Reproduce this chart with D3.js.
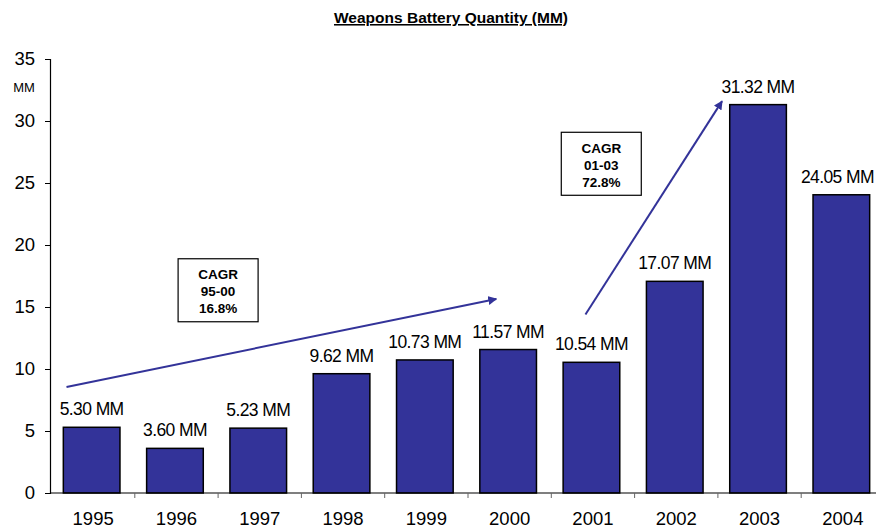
<!DOCTYPE html>
<html>
<head>
<meta charset="utf-8">
<script src="https://cdn.jsdelivr.net/npm/d3@7"></script>
<style>
  body { margin: 0; background: #fff; }
  svg { display: block; font-family: "Liberation Sans", Arial, sans-serif; }
</style>
</head>
<body>
<div id="chart"></div>
<script>
// Weapons battery quantity by year (millions)
const years = ['1995', '1996', '1997', '1998', '1999', '2000', '2001', '2002', '2003', '2004'];
const quantities = [5.30, 3.60, 5.23, 9.62, 10.73, 11.57, 10.54, 17.07, 31.32, 24.05];
const yTicks = [0, 5, 10, 15, 20, 25, 30, 35];

// CAGR call-outs: arrow from/to (year, offset within band, value) and the box text
const cagrLabels = [['CAGR', '95-00', '16.8%'], ['CAGR', '01-03', '72.8%']];
const arrowFrom = [['1995', 0.18, 8.55], ['2001', 0.41, 14.4]];
const arrowTo = [['2000', 0.34, 15.65], ['2003', 0.05, 31.6]];
const boxCenter = [['1997', 0.0, 16.35], ['2001', 0.60, 26.55]];

const W = 876, H = 529;
const margin = { top: 59, left: 50, bottom: 36 };
const xStart = 51.5, xEnd = 884.5;   // plot runs past the right edge of the page

const svg = d3.select('#chart').append('svg')
    .attr('width', W)
    .attr('height', H);

const x = d3.scaleBand()
    .domain(years)
    .range([xStart - 1.5, xEnd - 1.5])
    .paddingInner(0.32)
    .paddingOuter(0.16);

const xb = d3.scaleBand()
    .domain(years)
    .range([xStart, xEnd]);

const y = d3.scaleLinear()
    .domain([0, 35])
    .range([H - margin.bottom, margin.top]);

const xAt = (yr, off) => xb(yr) + off * xb.bandwidth();

svg.append('defs').append('marker')
    .attr('id', 'arrow')
    .attr('viewBox', '0 0 10 10')
    .attr('refX', 9)
    .attr('refY', 5)
    .attr('markerWidth', 4.5)
    .attr('markerHeight', 4.5)
    .attr('orient', 'auto')
    .append('path')
    .attr('d', 'M0,0 L10,5 L0,10 Z')
    .attr('fill', '#333399');

// Title
svg.append('text')
    .attr('x', 451)
    .attr('y', 23)
    .attr('text-anchor', 'middle')
    .attr('font-size', 15.5)
    .attr('font-weight', 'bold')
    .attr('text-decoration', 'underline')
    .text('Weapons Battery Quantity (MM)');

// Bars
svg.selectAll('.bar')
    .data(years)
    .enter()
    .append('rect')
    .attr('class', 'bar')
    .attr('x', d => x(d))
    .attr('y', (d, i) => y(quantities[i]))
    .attr('width', x.bandwidth())
    .attr('height', (d, i) => y(0) - y(quantities[i]))
    .attr('fill', '#333399')
    .attr('stroke', '#000')
    .attr('stroke-width', 1.5);

// Value labels
svg.selectAll('.val')
    .data(years)
    .enter()
    .append('text')
    .attr('class', 'val')
    .attr('x', d => x(d) + x.bandwidth() / 2)
    .attr('y', (d, i) => y(quantities[i]) - 12)
    .attr('text-anchor', 'middle')
    .attr('font-size', 17.5)
    .attr('letter-spacing', -0.6)
    .text((d, i) => quantities[i].toFixed(2) + ' MM')
    .each(function() {
        // keep the last label inside the page
        const b = this.getBBox();
        const over = b.x + b.width - (W - 2);
        if (over > 0) d3.select(this).attr('x', +d3.select(this).attr('x') - over);
    });

// Y axis
const yAxis = svg.append('g')
    .attr('transform', `translate(${margin.left},0)`)
    .call(d3.axisLeft(y).tickValues(yTicks).tickSize(5).tickPadding(10));
yAxis.select('.domain').attr('stroke', '#000').attr('stroke-width', 1.2);
yAxis.selectAll('.tick line').attr('stroke', '#000');
yAxis.selectAll('.tick text')
    .attr('font-size', 18.5)
    .attr('font-family', '"Liberation Sans", Arial, sans-serif')
    .attr('fill', '#000');

svg.append('text')
    .attr('x', 24)
    .attr('y', 92)
    .attr('text-anchor', 'middle')
    .attr('font-size', 13)
    .text('MM');

// X axis
const xAxis = svg.append('g')
    .attr('transform', `translate(0,${y(0)})`);
xAxis.append('line')
    .attr('x1', margin.left)
    .attr('x2', W)
    .attr('stroke', '#000')
    .attr('stroke-width', 1.2);
xAxis.selectAll('.xtick')
    .data(years.slice(1))
    .enter()
    .append('line')
    .attr('x1', d => xb(d))
    .attr('x2', d => xb(d))
    .attr('y1', 0)
    .attr('y2', 5)
    .attr('stroke', '#666');
xAxis.selectAll('.xlab')
    .data(years)
    .enter()
    .append('text')
    .attr('x', d => xb(d) + xb.bandwidth() / 2)
    .attr('y', 32)
    .attr('text-anchor', 'middle')
    .attr('font-size', 18.5)
    .text(d => d);

// CAGR arrows
svg.selectAll('.arrow')
    .data(arrowFrom)
    .enter()
    .append('line')
    .attr('class', 'arrow')
    .attr('x1', d => xAt(d[0], d[1]))
    .attr('y1', d => y(d[2]))
    .attr('x2', (d, i) => xAt(arrowTo[i][0], arrowTo[i][1]))
    .attr('y2', (d, i) => y(arrowTo[i][2]))
    .attr('stroke', '#333399')
    .attr('stroke-width', 2)
    .attr('marker-end', 'url(#arrow)');

// CAGR boxes
const boxW = 80, boxH = 63;
const boxes = svg.selectAll('.cagr')
    .data(boxCenter)
    .enter()
    .append('g')
    .attr('class', 'cagr')
    .attr('transform', d => `translate(${xAt(d[0], d[1])},${y(d[2])})`);
boxes.append('rect')
    .attr('x', -boxW / 2)
    .attr('y', -boxH / 2)
    .attr('width', boxW)
    .attr('height', boxH)
    .attr('fill', '#fff')
    .attr('stroke', '#000')
    .attr('stroke-width', 1.2);
boxes.each(function(d, i) {
    d3.select(this).selectAll('text')
        .data(cagrLabels[i])
        .enter()
        .append('text')
        .attr('x', 0)
        .attr('y', (t, j) => -11 + j * 17)
        .attr('text-anchor', 'middle')
        .attr('font-size', 13.5)
        .attr('font-weight', 'bold')
        .text(t => t);
});
</script>
</body>
</html>
